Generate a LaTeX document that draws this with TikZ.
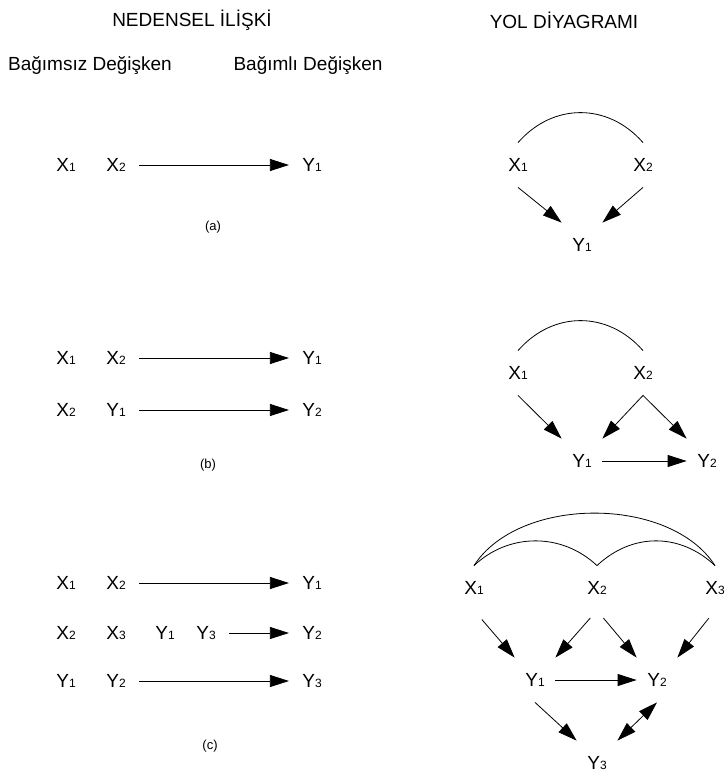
\documentclass[tikz,border=0pt]{standalone}
\usepackage{fontspec}
\setmainfont{Liberation Sans}
\usetikzlibrary{arrows.meta}
\newcommand{\ix}[1]{{\fontsize{12}{12}\selectfont #1}}
\tikzset{
  lv/.style={inner xsep=13pt,inner ysep=0pt,font=\fontsize{19}{19}\selectfont},
  rv/.style={inner sep=0pt,minimum width=40pt,minimum height=44pt,font=\fontsize{19}{19}\selectfont},
  arr/.style={-{Triangle[length=19pt,width=12pt]},line width=0.8pt},
  darr/.style={{Triangle[length=19pt,width=12pt]}-{Triangle[length=19pt,width=12pt]},line width=0.8pt},
  lab/.style={font=\fontsize{13}{13}\selectfont},
  ttl/.style={font=\fontsize{19}{19}\selectfont}
}
\begin{document}
\begin{tikzpicture}[x=1pt,y=-1pt,line width=0.8pt]
\useasboundingbox (0,0) rectangle (727,775);
            \draw (192,20) node[ttl] (t1) {NEDENSEL İLİŞKİ};
            \draw (564,20) node[ttl] (t2) {YOL DİYAGRAMI};
            \draw (90,66) node[ttl] (h1) {Bağımsız Değişken};
            \draw (308,66) node[ttl] (h2) {Bağımlı Değişken};

            \draw (66,165) node[lv] (aX1) {X\ix{1}};
            \draw (116,165) node[lv] (aX2) {X\ix{2}};
            \draw (312,165) node[lv] (aY1) {Y\ix{1}};
            \draw[arr] (aX2)--(aY1);
            \draw (213,227) node[lab] (la) {(a)};

            \draw (518,165) node[rv] (raX1) {X\ix{1}};
            \draw (643,165) node[rv] (raX2) {X\ix{2}};
            \draw (582,245) node[rv] (raY1) {Y\ix{1}};
            \draw (raX1.north) .. controls +(35,-40) and +(-35,-40) .. (raX2.north);
            \draw[arr] (raX1.south)--(raY1.north west);
            \draw[arr] (raX2.south)--(raY1.north east);

            \draw (66,358) node[lv] (bX1) {X\ix{1}};
            \draw (116,358) node[lv] (bX2) {X\ix{2}};
            \draw (312,358) node[lv] (bY1) {Y\ix{1}};
            \draw (66,410) node[lv] (bX2b) {X\ix{2}};
            \draw (116,410) node[lv] (bY1b) {Y\ix{1}};
            \draw (312,410) node[lv] (bY2) {Y\ix{2}};
            \draw[arr] (bX2)--(bY1);
            \draw[arr] (bY1b)--(bY2);
            \draw (208,465) node[lab] (lb) {(b)};

            \draw (518,373) node[rv] (rbX1) {X\ix{1}};
            \draw (643,373) node[rv] (rbX2) {X\ix{2}};
            \draw (582,461) node[rv] (rbY1) {Y\ix{1}};
            \draw (707,461) node[rv] (rbY2) {Y\ix{2}};
            \draw (rbX1.north) .. controls +(35,-40) and +(-35,-40) .. (rbX2.north);
            \draw[arr] (rbX1.south)--(rbY1.north west);
            \draw[arr] (rbX2.south)--(rbY1.north east);
            \draw[arr] (rbX2.south)--(rbY2.north west);
            \draw[arr] (rbY1)--(rbY2);

            \draw (66,583) node[lv] (cX1) {X\ix{1}};
            \draw (116,583) node[lv] (cX2) {X\ix{2}};
            \draw (312,583) node[lv] (cY1) {Y\ix{1}};
            \draw (66,633) node[lv] (cX2b) {X\ix{2}};
            \draw (116,633) node[lv] (cX3) {X\ix{3}};
            \draw (165,633) node[lv] (cY1b) {Y\ix{1}};
            \draw (206,633) node[lv] (cY3b) {Y\ix{3}};
            \draw (312,633) node[lv] (cY2) {Y\ix{2}};
            \draw (66,681) node[lv] (cY1c) {Y\ix{1}};
            \draw (116,681) node[lv] (cY2c) {Y\ix{2}};
            \draw (312,681) node[lv] (cY3) {Y\ix{3}};
            \draw[arr] (cX2)--(cY1);
            \draw[arr] (cY3b)--(cY2);
            \draw[arr] (cY2c)--(cY3);
            \draw (210,746) node[lab] (lc) {(c)};

            \draw (474,588) node[rv] (rcX1) {X\ix{1}};
            \draw (597,588) node[rv] (rcX2) {X\ix{2}};
            \draw (715,588) node[rv] (rcX3) {X\ix{3}};
            \draw (535,680) node[rv] (rcY1) {Y\ix{1}};
            \draw (657,680) node[rv] (rcY2) {Y\ix{2}};
            \draw (597,763) node[rv] (rcY3) {Y\ix{3}};
            \draw (rcX1.north) .. controls +(45,-70) and +(-45,-70) .. (rcX3.north);
            \draw (rcX1.north) .. controls +(35,-33) and +(-35,-33) .. (rcX2.north);
            \draw (rcX2.north) .. controls +(35,-33) and +(-35,-33) .. (rcX3.north);
            \draw[arr,shorten <=12pt] (rcX1.south)--(rcY1.north west);
            \draw[arr,shorten <=10pt] (rcX2.south)--(rcY1.north east);
            \draw[arr,shorten <=10pt] (rcX2.south)--(rcY2.north west);
            \draw[arr,shorten <=10pt] (rcX3.south)--(rcY2.north east);
            \draw[arr] (rcY1)--(rcY2);
            \draw[arr] (rcY1.south)--(rcY3.north west);
            \draw[darr] (rcY2.south)--(rcY3.north east);
\end{tikzpicture}
\end{document}
